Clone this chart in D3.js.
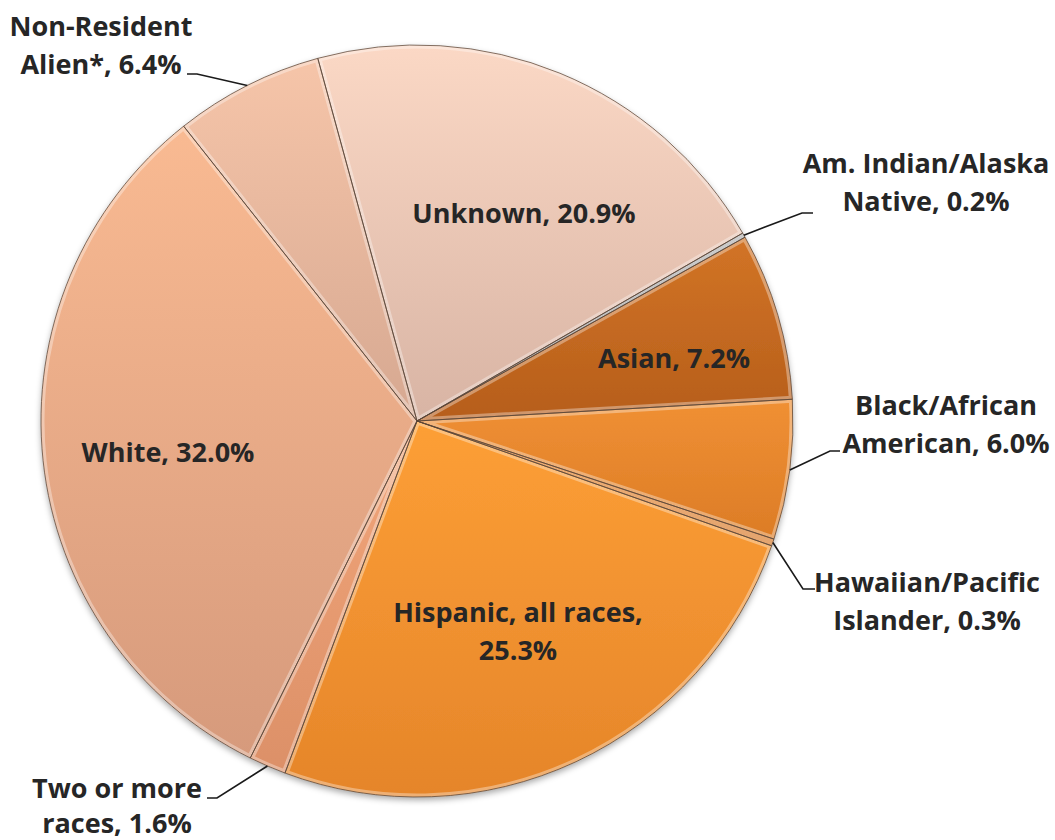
<!DOCTYPE html>
<html>
<head>
<meta charset="utf-8">
<script src="https://cdn.jsdelivr.net/npm/d3@7"></script>
<style>
  html, body { margin: 0; padding: 0; background: #fff; }
  #chart text { font-family: "Open Sans", sans-serif; font-weight: 700; font-size: 27px; fill: #262626; }
</style>
</head>
<body>
<div id="chart"></div>
<script>
// categories and values (percent), clockwise from the Unknown slice
const categories = ["Unknown", "Am. Indian/Alaska Native", "Asian", "Black/African American",
    "Hawaiian/Pacific Islander", "Hispanic, all races", "Two or more races", "White", "Non-Resident Alien*"];
const values = [20.9, 0.2, 7.2, 6.0, 0.3, 25.3, 1.6, 32.0, 6.4];
// label text lines as printed on the chart
const labelLines = [
    ["Unknown, 20.9%"],
    ["Am. Indian/Alaska", "Native, 0.2%"],
    ["Asian, 7.2%"],
    ["Black/African", "American, 6.0%"],
    ["Hawaiian/Pacific", "Islander, 0.3%"],
    ["Hispanic, all races,", "25.3%"],
    ["Two or more", "races, 1.6%"],
    ["White, 32.0%"],
    ["Non-Resident", "Alien*, 6.4%"]
];
// fill colours, light (top) and dark (bottom)
const topColors = ["#fbd8c5", "#b0b0b0", "#d27426", "#f09034", "#e8862c", "#fd9f36", "#f2a67a", "#f9ba92", "#f6c5a9"];
const bottomColors = ["#d8b4a4", "#909090", "#b65e1b", "#dc7c26", "#d57422", "#e5852a", "#dc9068", "#d69a7c", "#d6a891"];

// label layout: text centre x, first baseline y, and optional leader elbow
const labelLayout = [
    { x: 524, y: 223 },
    { x: 926, y: 173, elbow: [802, 213], end: [813, 213] },
    { x: 674, y: 368 },
    { x: 946, y: 415, elbow: [830, 451], end: [840, 451] },
    { x: 927, y: 592, elbow: [803, 589], end: [815, 589] },
    { x: 518, y: 622 },
    { x: 117, y: 798, elbow: [217, 798], end: [207, 798] },
    { x: 168, y: 462 },
    { x: 101, y: 36, elbow: [197, 74], end: [187, 74] }
];

const width = 1055, height = 840;
const cx = 417, cy = 421, radius = 376;
const startDeg = -15.3;
const lineGap = 38;

let svg = d3.select("#chart").append("svg")
    .attr("width", width)
    .attr("height", height);

let defs = svg.append("defs");

// soft shadow under the pie
let shadow = defs.append("filter").attr("id", "shadow")
    .attr("x", "-10%").attr("y", "-10%").attr("width", "120%").attr("height", "120%");
shadow.append("feDropShadow")
    .attr("dx", 0).attr("dy", 3).attr("stdDeviation", 3)
    .attr("flood-color", "#000").attr("flood-opacity", 0.35);

// one vertical gradient per slice
values.forEach(function (v, i) {
    let g = defs.append("linearGradient")
        .attr("id", "grad" + i)
        .attr("x1", 0).attr("y1", 0).attr("x2", 0).attr("y2", 1);
    g.append("stop").attr("offset", "0%").attr("stop-color", topColors[i]);
    g.append("stop").attr("offset", "100%").attr("stop-color", bottomColors[i]);
});

let pie = d3.pie()
    .sort(null)
    .value(function (d) { return d; })
    .startAngle(startDeg * Math.PI / 180)
    .endAngle((startDeg + 360) * Math.PI / 180);

let arc = d3.arc()
    .innerRadius(0)
    .outerRadius(radius);

let arcs = pie(values);

let g = svg.append("g")
    .attr("transform", "translate(" + cx + "," + cy + ")");

// clip paths so the bevel highlight stays inside each slice
arcs.forEach(function (d, i) {
    defs.append("clipPath").attr("id", "clip" + i)
        .append("path").attr("d", arc(d));
});

let pieGroup = g.append("g").attr("filter", "url(#shadow)");

pieGroup.selectAll("path.slice")
    .data(arcs)
    .enter().append("path")
    .attr("class", "slice")
    .attr("d", arc)
    .attr("fill", function (d, i) { return "url(#grad" + i + ")"; });

// bevel: light inner rim then dark thin edge
g.selectAll("path.bevel")
    .data(arcs)
    .enter().append("path")
    .attr("class", "bevel")
    .attr("d", arc)
    .attr("clip-path", function (d, i) { return "url(#clip" + i + ")"; })
    .attr("fill", "none")
    .attr("stroke", "#fff")
    .attr("stroke-opacity", 0.35)
    .attr("stroke-width", 7);

g.selectAll("path.edge")
    .data(arcs)
    .enter().append("path")
    .attr("class", "edge")
    .attr("d", arc)
    .attr("fill", "none")
    .attr("stroke", "#5a4436")
    .attr("stroke-opacity", 0.75)
    .attr("stroke-width", 1);

// leader lines for the outside labels
arcs.forEach(function (d, i) {
    let lay = labelLayout[i];
    if (!lay.elbow) return;
    let mid = (d.startAngle + d.endAngle) / 2;
    let px = cx + radius * Math.sin(mid);
    let py = cy - radius * Math.cos(mid);
    svg.append("polyline")
        .attr("points", [[px, py], lay.elbow, lay.end].map(function (p) { return p.join(","); }).join(" "))
        .attr("fill", "none")
        .attr("stroke", "#1a1a1a")
        .attr("stroke-width", 1.6);
});

// labels
labelLines.forEach(function (lines, i) {
    let lay = labelLayout[i];
    let t = svg.append("text")
        .attr("text-anchor", "middle");
    lines.forEach(function (line, k) {
        t.append("tspan")
            .attr("x", lay.x)
            .attr("y", lay.y + k * (i === 6 ? 35 : lineGap))
            .text(line);
    });
});
</script>
</body>
</html>
